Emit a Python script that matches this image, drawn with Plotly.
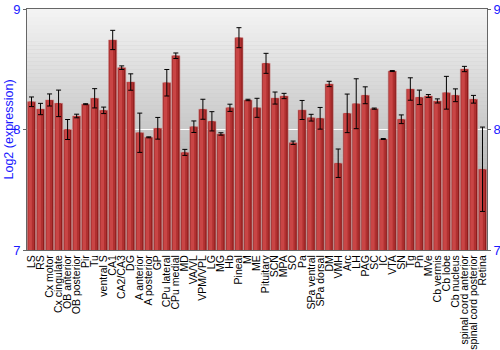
import plotly.graph_objects as go

regions = ["LS", "RS", "Cx motor", "Cx cingulate", "OB anterior", "OB posterior", "Pir", "Tu",
           "ventral S", "CA1", "CA2/CA3", "DG", "A anterior", "A posterior", "GP", "CPu lateral",
           "CPu medial", "MD", "VA/VL", "VPM/VPL", "LG", "MG", "Hb", "Pineal", "M", "ME",
           "Pituitary", "SCN", "MPA", "SO", "Pa", "SPa ventral", "SPa dorsal", "DM", "VMH", "Arc",
           "LH", "PAG", "SC", "IC", "VTA", "SN", "Tg", "Pn", "MVe", "Cb vermis", "Cb lobe",
           "Cb nucleus", "spinal cord anterior", "spinal cord posterior", "Retina"]

expression = [8.23, 8.17, 8.245, 8.217, 8.00, 8.112, 8.21, 8.259,
              8.159, 8.743, 8.513, 8.394, 7.973, 7.935, 8.01, 8.388,
              8.612, 7.81, 8.023, 8.168, 8.068, 7.963, 8.18, 8.762, 8.245, 8.18,
              8.549, 8.261, 8.278, 7.89, 8.162, 8.098, 8.093, 8.378, 7.72, 8.134,
              8.214, 8.284, 8.173, 7.921, 8.485, 8.085, 8.336, 8.267, 8.278, 8.237, 8.305,
              8.284, 8.502, 8.251, 7.67]

error = [0.04, 0.047, 0.05, 0.11, 0.083, 0.015, 0.004, 0.08,
         0.027, 0.08, 0.015, 0.068, 0.163, 0.004, 0.09, 0.11,
         0.023, 0.025, 0.048, 0.083, 0.08, 0.01, 0.03, 0.083, 0.006, 0.079,
         0.083, 0.05, 0.022, 0.014, 0.079, 0.028, 0.09, 0.022, 0.118, 0.16,
         0.207, 0.07, 0.005, 0.004, 0.004, 0.036, 0.093, 0.06, 0.012, 0.017, 0.136,
         0.053, 0.022, 0.032, 0.35]

y_ticks = [7, 8, 9]

blue = "#1a1aff"

fig = go.Figure()
# base bar (dark body, pinkish rim)
fig.add_trace(go.Bar(
    x=regions, y=expression, width=0.9, offset=-0.45,
    marker=dict(color="#8e1c1c", line=dict(color="#d08a8a", width=0.6)),
    hoverinfo="x+y",
))
# shading layers to imitate the rounded, lit bar
fig.add_trace(go.Bar(
    x=regions, y=expression, width=0.55, offset=-0.27,
    marker=dict(color="#b03030", line=dict(width=0)), hoverinfo="skip",
))
fig.add_trace(go.Bar(
    x=regions, y=expression, width=0.4, offset=-0.36,
    marker=dict(color="#c94545", line=dict(width=0)), hoverinfo="skip",
))
# error bars, centred on the bars
fig.add_trace(go.Bar(
    x=regions, y=expression, width=0.9, offset=-0.45,
    marker=dict(color="rgba(0,0,0,0)", line=dict(width=0)), hoverinfo="skip",
    error_y=dict(type="data", array=error, color="black", thickness=1, width=2.5),
))
fig.add_trace(go.Scatter(x=regions[:1], y=[8], yaxis="y2", mode="markers",
                         marker=dict(opacity=0), showlegend=False, hoverinfo="skip"))

# gradient background
shapes = []
n = 60
top = (0xf4, 0xf4, 0xf4)
bot = (0x9c, 0x9c, 0x9c)
for i in range(n):
    t = (i + 0.5) / n
    c = tuple(int(round(top[k] + (bot[k] - top[k]) * t)) for k in range(3))
    y1 = 9 - 2 * i / n
    y0 = 9 - 2 * (i + 1) / n
    shapes.append(dict(type="rect", xref="paper", yref="y", x0=0, x1=1, y0=y0, y1=y1,
                       fillcolor="rgb(%d,%d,%d)" % c, line=dict(width=0), layer="below"))

fig.update_layout(
    width=500, height=350,
    margin=dict(l=27, r=13, t=9, b=100),
    paper_bgcolor="white", plot_bgcolor="#c8c8c8",
    showlegend=False, barmode="overlay",
    shapes=shapes,
    font=dict(family="Liberation Sans, Arial, sans-serif"),
    xaxis=dict(tickmode="array", tickvals=regions, ticktext=regions,
               tickangle=-90, tickfont=dict(size=10.5, color="black"), showline=True,
               linecolor="#666", linewidth=1, mirror=True, ticks="", showgrid=False,
               automargin=False, range=[-0.5, len(regions) - 0.5]),
    yaxis=dict(range=[7, 9], tickvals=y_ticks, tickfont=dict(size=13, color=blue),
               showgrid=True, gridcolor="white", gridwidth=1, zeroline=False,
               ticks="outside", ticklen=3, tickcolor="#666", showline=True, linecolor="#666",
               linewidth=1, automargin=False),
    yaxis2=dict(range=[7, 9], tickvals=y_ticks, overlaying="y", side="right",
                tickfont=dict(size=13, color=blue), showgrid=False, zeroline=False,
                ticks="outside", ticklen=3, tickcolor="#666", showline=True, linecolor="#666",
                linewidth=1, automargin=False),
    annotations=[dict(text="Log2 (expression)", xref="paper", yref="paper", x=0, y=0.5,
                      xanchor="center", yanchor="middle",
                      xshift=-19, textangle=-90, showarrow=False,
                      font=dict(size=12.5, color=blue))],
)

fig.write_html("out.html")
